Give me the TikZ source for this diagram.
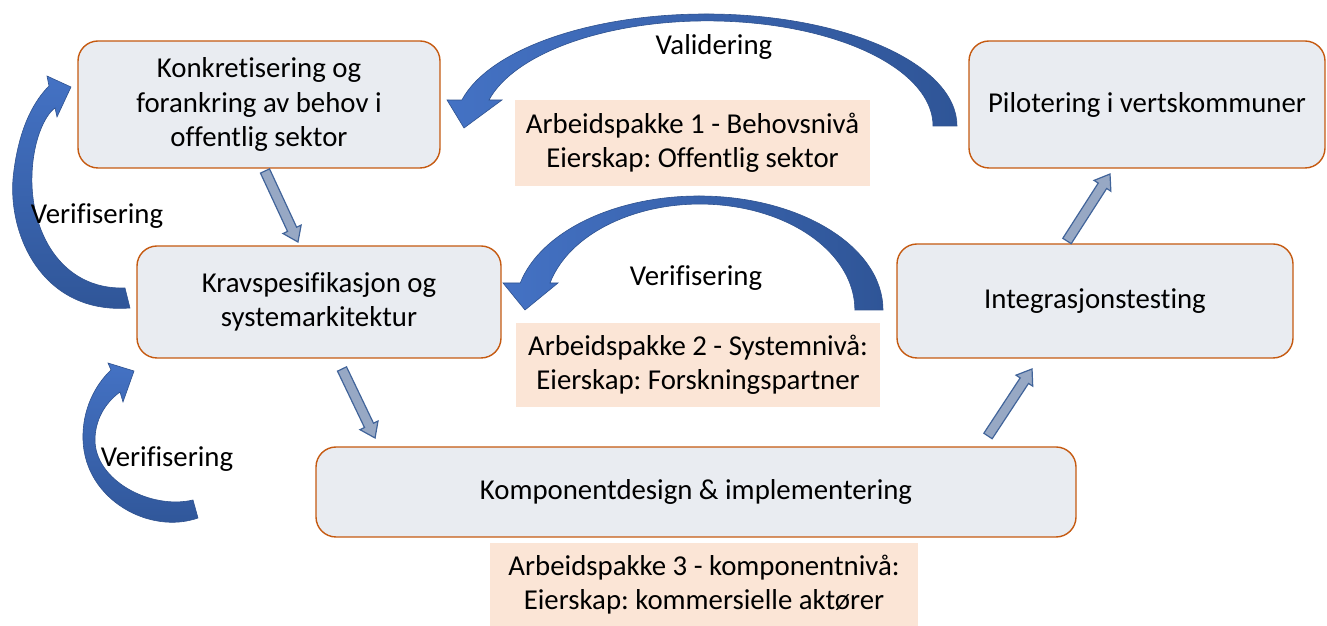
\documentclass[tikz,border=0pt]{standalone}
\usepackage{fontspec}
\setmainfont{Carlito}[Ligatures={NoCommon}]
\usetikzlibrary{calc}
\frenchspacing
\definecolor{boxfill}{HTML}{E9ECF1}
\definecolor{boxline}{HTML}{C55A11}
\definecolor{lblfill}{HTML}{FBE5D6}
\definecolor{arrL}{HTML}{4472C4}
\definecolor{arrD}{HTML}{2F5597}
\definecolor{arrB}{HTML}{2F528F}
\definecolor{blkfill}{HTML}{97A8C4}
\definecolor{blkline}{HTML}{41649A}
\newcommand\blkarrow[3]{\draw[blk, shift={(#1)}, rotate=#2] (0,-5) -- ({#3-14},-5) -- ({#3-14},-10) -- (#3,0) -- ({#3-14},10) -- ({#3-14},5) -- (0,5) -- cycle;}
\begin{document}
\begin{tikzpicture}[x=1pt,y=1pt,
  every node/.style={font=\fontsize{28.8}{34.5}\selectfont, inner sep=0pt},
  box/.style={draw=boxline, line width=1.4pt, fill=boxfill, rounded corners=20pt, align=center},
  lbl/.style={fill=lblfill, align=center},
  harrow/.style={left color=arrL, right color=arrD, draw=arrB, line width=0.6pt},
  varrow/.style={top color=arrL, bottom color=arrD, draw=arrB, line width=0.6pt},
  blk/.style={fill=blkfill, draw=blkline, line width=1.2pt, line join=miter}]
\useasboundingbox (0,0) rectangle (1327,626);

% boxes
\node[box, minimum width=362, minimum height=127] (konk) at (259,521.5) {Konkretisering og\\forankring av behov i\\offentlig sektor};
\node[box, minimum width=364, minimum height=112] (krav) at (319,324) {Kravspesifikasjon og\\systemarkitektur};
\node[box, minimum width=760, minimum height=90] (komp) at (696,134) {Komponentdesign \& implementering};
\node[box, minimum width=396, minimum height=114] (integ) at (1095,325) {Integrasjonstesting};
\node[box, minimum width=356, minimum height=127] (pilot) at (1147,521.5) {Pilotering i vertskommuner};

% work package labels
\node[lbl, minimum width=355, minimum height=86] (ap1) at (692.5,483) {Arbeidspakke 1 - Behovsnivå\\Eierskap: Offentlig sektor};
\node[lbl, minimum width=364, minimum height=84] (ap2) at (698,261) {Arbeidspakke 2 - Systemnivå:\\Eierskap: Forskningspartner};
\node[lbl, minimum width=428, minimum height=83] (ap3) at (704,41.5) {Arbeidspakke 3 - komponentnivå:\\Eierskap: kommersielle aktører};

% curved arrows
\draw[harrow] (933,500) -- (957,500) arc[start angle=0, end angle=166.6, x radius=251, y radius=112] -- (447,526) -- (464,498) -- (502,526) -- (489,526) arc[start angle=165.7, end angle=0, x radius=225.5, y radius=105] -- cycle;
\draw[harrow] (855,316) -- (883,316) arc[start angle=0, end angle=166.3, x radius=184, y radius=114] -- (503,343) -- (525,316) -- (558,343) -- (550,343) arc[start angle=165.2, end angle=0, x radius=155, y radius=106] -- cycle;
\draw[varrow] (130,318) .. controls (40,311) and (5,396) .. (14,456) .. controls (20,501) and (35,526) .. (49,540) -- (47,550) -- (71,539) -- (57,509) -- (55,518) .. controls (45,511) and (33,486) .. (32,451) .. controls (30,396) and (60,336) .. (125,338) -- cycle;
\draw[varrow] (198,108) .. controls (150,91) and (85,126) .. (83,186) .. controls (82,216) and (95,241) .. (111,256) -- (108,263) -- (134,255) -- (123,224) -- (120,234) .. controls (105,223) and (95,206) .. (95,186) .. controls (95,146) and (150,116) .. (193,126) -- cycle;

% curved arrow labels (on top of the arrows)
\node (val) at (714,579) {Validering};
\node (ver1) at (696,348) {Verifisering};
\node (ver2) at (97,410) {Verifisering};
\node (ver3) at (167,167) {Verifisering};

% block arrows
\coordinate (b1s) at (265,455);
\coordinate (b2s) at (342,257);
\coordinate (b3s) at (1067,385);
\coordinate (b4s) at (988,190);
\blkarrow{b1s}{-65.1}{78.3}
\blkarrow{b2s}{-64.4}{76.5}
\blkarrow{b3s}{57.3}{79.6}
\blkarrow{b4s}{56.7}{80.2}
\end{tikzpicture}
\end{document}
